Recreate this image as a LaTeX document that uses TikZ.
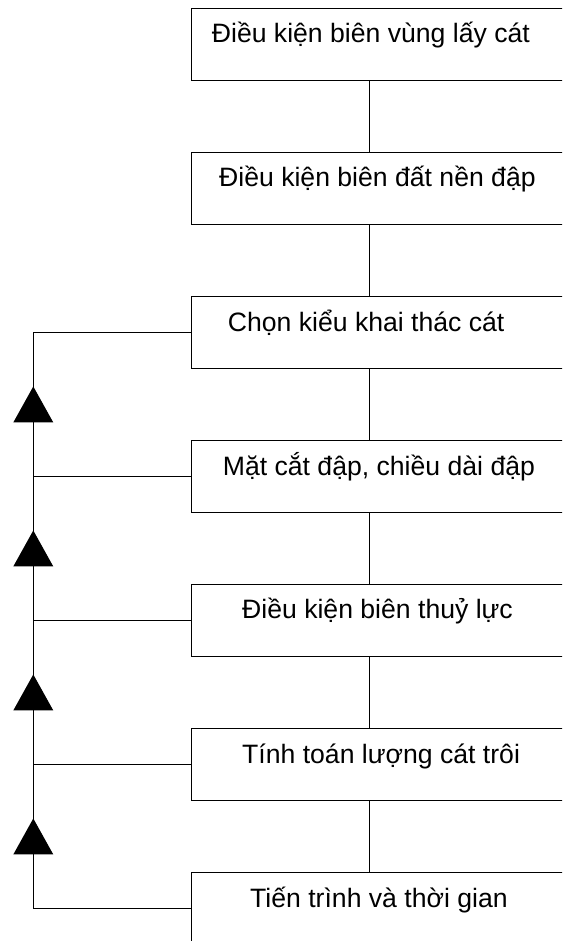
\documentclass[tikz,border=0pt]{standalone}
\usepackage{fontspec}
\setmainfont{Liberation Sans}
\usetikzlibrary{decorations.markings}
\begin{document}
\begin{tikzpicture}[x=1pt,y=-1pt,
  boxstyle/.style={draw=black, line width=0.9pt, rectangle, minimum width=400pt, minimum height=72pt, anchor=north west, inner sep=0pt},
  lbl/.style={font=\fontsize{26.6}{30}\selectfont, anchor=base west, inner sep=0pt},
  link/.style={draw=black, line width=0.9pt},
  uparrow/.style={link, postaction={decorate}, decoration={markings, mark=at position 0.5 with {\fill[black] (18pt,0pt) -- (-18pt,20pt) -- (-18pt,-20pt) -- cycle;}}}
]
\useasboundingbox (0,0) rectangle (562,941);
\clip (0,0) rectangle (562,941);
\coordinate (axis) at (369,0);
\coordinate (rail) at (33.3,0);
% boxes
\node[boxstyle] (b1) at (190.5,8) {};
\node[boxstyle] (b2) at (190.5,152) {};
\node[boxstyle] (b3) at (190.5,296) {};
\node[boxstyle] (b4) at (190.5,440) {};
\node[boxstyle] (b5) at (190.5,584) {};
\node[boxstyle] (b6) at (190.5,728) {};
\node[boxstyle] (b7) at (190.5,872) {};
% labels
\node[lbl] (t1) at (211.7,43) {Điều kiện biên vùng lấy cát};
\node[lbl] (t2) at (219,187) {Điều kiện biên đất nền đập};
\node[lbl] (t3) at (227.7,331) {Chọn kiểu khai thác cát};
\node[lbl] (t4) at (222.7,475) {Mặt cắt đập, chiều dài đập};
\node[lbl] (t5) at (242,618) {Điều kiện biên thuỷ lực};
\node[lbl] (t6) at (242,763) {Tính toán lượng cát trôi};
\node[lbl] (t7) at (250,907) {Tiến trình và thời gian};
% vertical connectors
\draw[link] (b1.south -| axis) -- (b2.north -| axis);
\draw[link] (b2.south -| axis) -- (b3.north -| axis);
\draw[link] (b3.south -| axis) -- (b4.north -| axis);
\draw[link] (b4.south -| axis) -- (b5.north -| axis);
\draw[link] (b5.south -| axis) -- (b6.north -| axis);
\draw[link] (b6.south -| axis) -- (b7.north -| axis);
% left rail
\draw[link] (b3.west) -- (b3.west -| rail);
\draw[link] (b4.west) -- (b4.west -| rail);
\draw[link] (b5.west) -- (b5.west -| rail);
\draw[link] (b6.west) -- (b6.west -| rail);
\draw[link] (b7.west) -- (b7.west -| rail);
\draw[uparrow] (b4.west -| rail) -- (b3.west -| rail);
\draw[uparrow] (b5.west -| rail) -- (b4.west -| rail);
\draw[uparrow] (b6.west -| rail) -- (b5.west -| rail);
\draw[uparrow] (b7.west -| rail) -- (b6.west -| rail);
\end{tikzpicture}
\end{document}
